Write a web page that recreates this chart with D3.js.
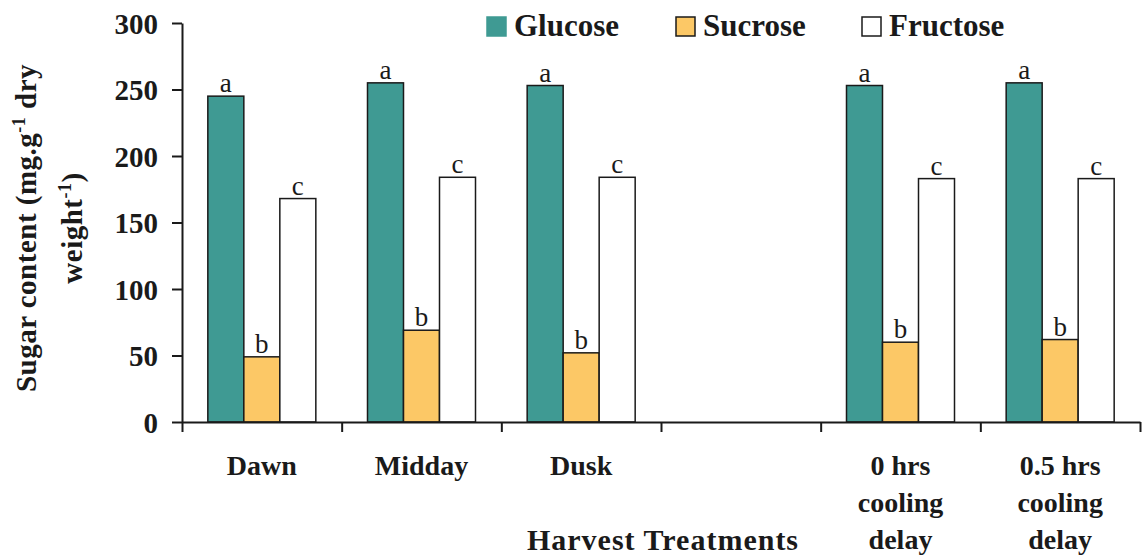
<!DOCTYPE html>
<html lang="en">
<head>
<meta charset="utf-8">
<title>Sugar content by harvest treatment</title>
<style>
    body { margin: 0; background: #fff; }
    svg text { font-family: "Liberation Serif", "Times New Roman", serif; fill: #1a1a1a; }
    .axis path, .axis line { stroke: #1a1a1a; stroke-width: 2px; }
    .bar { stroke: #1a1a1a; stroke-width: 1.5px; }
</style>
</head>
<body>
<script src="https://cdn.jsdelivr.net/npm/d3@7/dist/d3.min.js"></script>
<script>

    // categories (blank slot between Dusk and 0 hrs is kept as an empty group)
    var categories = [["Dawn"], ["Midday"], ["Dusk"], [], ["0 hrs", "cooling", "delay"], ["0.5 hrs", "cooling", "delay"]];
    var series = ["Glucose", "Sucrose", "Fructose"];
    var glucose = [245, 255, 253, null, 253, 255];
    var sucrose = [49, 69, 52, null, 60, 62];
    var fructose = [168, 184, 184, null, 183, 183];
    var letters = ["a", "b", "c"];
    var yTicks = [0, 50, 100, 150, 200, 250, 300];
    var colors = ["#3f9a93", "#fcc866", "#ffffff"];

    var width = 1142, height = 555;
    var plotLeft = 182, plotRight = 1140, plotTop = 23, plotBottom = 422;

    var svg = d3.select("body").append("svg")
        .attr("width", width)
        .attr("height", height);

    var values = [glucose, sucrose, fructose];

    var x = d3.scaleBand()
        .domain(d3.range(categories.length))
        .range([plotLeft, plotRight])
        .padding(0);

    var xEdge = d3.scaleLinear()
        .domain([0, categories.length])
        .range([plotLeft, plotRight]);

    var xSub = d3.scaleBand()
        .domain(d3.range(series.length))
        .range([0, 108])
        .padding(0);

    var y = d3.scaleLinear()
        .domain([0, 300])
        .range([plotBottom, plotTop]);

    var groupOffset = (x.bandwidth() - 108) / 2;

    // bars
    for (var s = 0; s < series.length; s++) {
        var data = values[s].map(function (v, i) { return {i: i, v: v}; })
            .filter(function (d) { return d.v != null; });

        svg.selectAll(".bar-" + s)
            .data(data)
            .enter()
            .append("rect")
            .attr("class", "bar bar-" + s)
            .attr("x", function (d) { return x(d.i) + groupOffset + xSub(s); })
            .attr("y", function (d) { return y(d.v); })
            .attr("width", xSub.bandwidth())
            .attr("height", function (d) { return y(0) - y(d.v); })
            .style("fill", colors[s]);

        svg.selectAll(".lbl-" + s)
            .data(data)
            .enter()
            .append("text")
            .attr("class", "lbl-" + s)
            .attr("x", function (d) { return x(d.i) + groupOffset + xSub(s) + xSub.bandwidth() / 2; })
            .attr("y", function (d) { return y(d.v) - 4; })
            .style("text-anchor", "middle")
            .style("font-size", "27px")
            .text(letters[s]);
    }

    // y axis
    var yAxis = svg.append("g")
        .attr("class", "axis")
        .attr("transform", "translate(" + plotLeft + ",0)")
        .call(d3.axisLeft(y).tickValues(yTicks).tickSize(10).tickSizeOuter(0).tickPadding(14));
    yAxis.selectAll("text")
        .style("font-size", "29px")
        .style("font-weight", "bold")
        .style("fill", "#1a1a1a")
        .attr("dy", "0.35em");

    // x axis, ticks at group edges
    svg.append("g")
        .attr("class", "axis")
        .attr("transform", "translate(0," + plotBottom + ")")
        .call(d3.axisBottom(xEdge).ticks(categories.length).tickSize(10).tickSizeOuter(0).tickFormat(""));

    // category labels
    categories.forEach(function (lines, i) {
        lines.forEach(function (line, k) {
            svg.append("text")
                .attr("x", x(i) + x.bandwidth() / 2)
                .attr("y", 475 + k * 37)
                .style("text-anchor", "middle")
                .style("font-size", "28px")
                .style("font-weight", "bold")
                .text(line);
        });
    });

    svg.append("text")
        .attr("x", (plotLeft + plotRight) / 2 + 2)
        .attr("y", 550)
        .style("text-anchor", "middle")
        .style("font-size", "30px")
        .style("letter-spacing", "1px")
        .style("font-weight", "bold")
        .text("Harvest Treatments");

    // y title
    var yTitle = svg.append("text")
        .attr("transform", "translate(0,228) rotate(-90)")
        .style("text-anchor", "middle")
        .style("font-size", "29px")
        .style("letter-spacing", "0.5px")
        .style("font-weight", "bold");
    var t1 = yTitle.append("tspan").attr("x", 0).attr("y", 36);
    t1.append("tspan").text("Sugar content (mg.g");
    t1.append("tspan").attr("dy", -11).style("font-size", "18px").text("-1");
    t1.append("tspan").attr("dy", 11).text(" dry");
    var t2 = yTitle.append("tspan").attr("x", 0).attr("y", 82);
    t2.append("tspan").text("weight");
    t2.append("tspan").attr("dy", -11).style("font-size", "18px").text("-1");
    t2.append("tspan").attr("dy", 11).text(")");

    // legend
    var legendX = [487, 676, 862];
    series.forEach(function (name, i) {
        var g = svg.append("g")
            .attr("transform", "translate(" + legendX[i] + ",17)");
        g.append("rect")
            .attr("width", 19)
            .attr("height", 19)
            .style("fill", colors[i])
            .style("stroke", i === 0 ? colors[0] : "#1a1a1a")
            .style("stroke-width", 1.5);
        g.append("text")
            .attr("x", 27)
            .attr("y", 19)
            .style("font-size", "31px")
            .style("font-weight", "bold")
            .text(name);
    });

</script>
</body>
</html>
